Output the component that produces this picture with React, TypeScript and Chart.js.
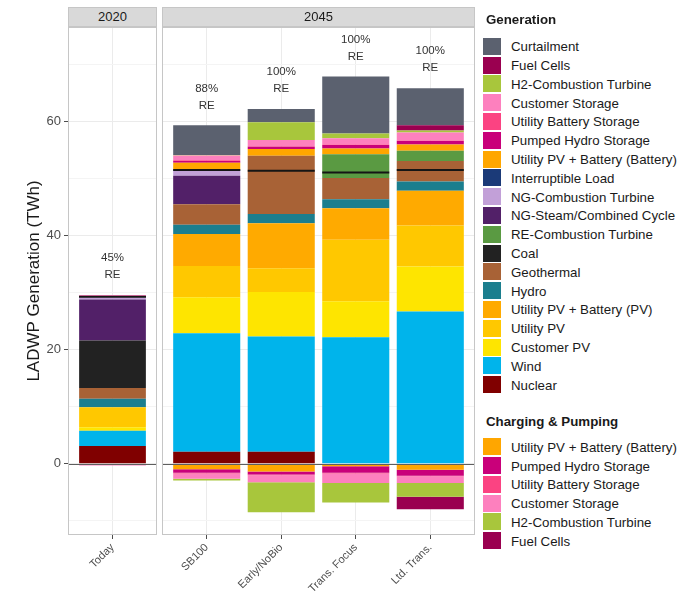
import React, { useEffect, useRef } from 'react';
import { Chart, registerables } from 'chart.js';

Chart.register(...registerables);

const FONT = "'Liberation Sans', Arial, Helvetica, sans-serif";

// ---------- data ----------
const categories = ['Today', 'SB100', 'Early/NoBio', 'Trans. Focus', 'Ltd. Trans.'];
const facetYears = ['2020', '2045'];
const facetMembers = [[0], [1, 2, 3, 4]];
const reShare = ['45%', '88%', '100%', '100%', '100%'];
const yGridValues = [-10, 0, 10, 20, 30, 40, 50, 60, 70];
const yLabelStep = 20;

// generation (TWh), per category
const nuclear = [3.1, 2.1, 2.1, 0, 0];
const wind = [2.7, 20.8, 20.2, 22.2, 26.7];
const customerPV = [0.6, 6.3, 7.8, 6.3, 7.9];
const utilityPV = [3.5, 5.5, 4.2, 10.8, 7.2];
const upvBatteryPV = [0, 5.6, 7.9, 5.5, 6.1];
const hydro = [1.5, 1.6, 1.6, 1.6, 1.6];
const geothermal = [1.9, 3.6, 10.2, 3.7, 3.6];
const coal = [8.3, 0, 0, 0, 0];
const reCT = [0, 0, 0, 4.2, 1.8];
const ngSteamCC = [7.2, 5.0, 0, 0, 0];
const ngCT = [0.4, 0.9, 0, 0, 0];
const interruptibleLoad = [0, 0.2, 0, 0, 0];
const upvBatteryBattery = [0, 1.2, 1.2, 1.0, 1.1];
const pumpedHydro = [0, 0.3, 0.4, 0.6, 0.6];
const utilityBattery = [0.1, 0.15, 0.1, 0.1, 0.1];
const customerStorage = [0.3, 0.8, 1.1, 1.1, 1.4];
const h2CT = [0, 0.1, 3.1, 0.8, 0.35];
const fuelCells = [0, 0, 0, 0, 0.9];
const curtailment = [0, 5.2, 2.3, 10.0, 6.5];

// load marker
const loadLevel = [29.3, 51.5, 51.4, 51.1, 51.5];

// charging & pumping (TWh, negative)
const chgUpvBattery = [0, -0.95, -1.35, -0.45, -1.05];
const chgPumpedHydro = [0, -0.65, -0.55, -1.15, -1.05];
const chgUtilityBattery = [0, -0.1, -0.1, -0.1, -0.1];
const chgCustomerStorage = [-0.3, -0.95, -1.25, -1.7, -1.2];
const chgH2CT = [0, -0.3, -5.25, -3.4, -2.4];
const chgFuelCells = [0, 0, 0, 0, -2.2];

// ---------- colours ----------
const COLORS: Record<string, string> = {
  'Curtailment': '#5b616f',
  'Fuel Cells': '#9a0050',
  'H2-Combustion Turbine': '#a8c63c',
  'Customer Storage': '#fd80be',
  'Utility Battery Storage': '#fb4382',
  'Pumped Hydro Storage': '#c9007a',
  'Utility PV + Battery (Battery)': '#ffa600',
  'Interruptible Load': '#1b3a78',
  'NG-Combustion Turbine': '#c2a0d8',
  'NG-Steam/Combined Cycle': '#522068',
  'RE-Combustion Turbine': '#5a9a42',
  'Coal': '#222222',
  'Geothermal': '#a86236',
  'Hydro': '#1b7e8e',
  'Utility PV + Battery (PV)': '#ffaa00',
  'Utility PV': '#ffc800',
  'Customer PV': '#fee500',
  'Wind': '#00b4eb',
  'Nuclear': '#800000',
};

// stacking order: bottom -> top
const generation: { name: string; data: number[] }[] = [
  { name: 'Nuclear', data: nuclear },
  { name: 'Wind', data: wind },
  { name: 'Customer PV', data: customerPV },
  { name: 'Utility PV', data: utilityPV },
  { name: 'Utility PV + Battery (PV)', data: upvBatteryPV },
  { name: 'Hydro', data: hydro },
  { name: 'Geothermal', data: geothermal },
  { name: 'Coal', data: coal },
  { name: 'RE-Combustion Turbine', data: reCT },
  { name: 'NG-Steam/Combined Cycle', data: ngSteamCC },
  { name: 'NG-Combustion Turbine', data: ngCT },
  { name: 'Interruptible Load', data: interruptibleLoad },
  { name: 'Utility PV + Battery (Battery)', data: upvBatteryBattery },
  { name: 'Pumped Hydro Storage', data: pumpedHydro },
  { name: 'Utility Battery Storage', data: utilityBattery },
  { name: 'Customer Storage', data: customerStorage },
  { name: 'H2-Combustion Turbine', data: h2CT },
  { name: 'Fuel Cells', data: fuelCells },
  { name: 'Curtailment', data: curtailment },
];

// charging order: nearest zero -> furthest
const charging: { name: string; data: number[] }[] = [
  { name: 'Utility PV + Battery (Battery)', data: chgUpvBattery },
  { name: 'Pumped Hydro Storage', data: chgPumpedHydro },
  { name: 'Utility Battery Storage', data: chgUtilityBattery },
  { name: 'Customer Storage', data: chgCustomerStorage },
  { name: 'H2-Combustion Turbine', data: chgH2CT },
  { name: 'Fuel Cells', data: chgFuelCells },
];

const Y_MIN = -12.5;
const Y_MAX = 76.6;

function makePanelPlugin(idx: number[]) {
  const totals = idx.map((ci) =>
    generation.reduce((s, g) => s + Math.max(0, g.data[ci]), 0)
  );
  return {
    id: 'panelDecor',
    afterDatasetsDraw(chart: any) {
      const { ctx, chartArea: a, scales } = chart;
      const y = scales.y;
      const x = scales.x;
      ctx.save();
      const y0 = Math.round(y.getPixelForValue(0)) + 0.5;
      ctx.strokeStyle = '#5e5e5e';
      ctx.lineWidth = 1;
      ctx.beginPath();
      ctx.moveTo(a.left, y0);
      ctx.lineTo(a.right, y0);
      ctx.stroke();

      ctx.fillStyle = '#333333';
      ctx.font = `11.5px ${FONT}`;
      ctx.textAlign = 'center';
      ctx.textBaseline = 'middle';
      idx.forEach((ci, k) => {
        const px = x.getPixelForValue(k);
        const top = y.getPixelForValue(totals[k]);
        ctx.fillText(reShare[ci], px, top - 37);
        ctx.fillText('RE', px, top - 20);
      });

      ctx.strokeStyle = '#c6c6c6';
      ctx.lineWidth = 1;
      ctx.strokeRect(a.left + 0.5, a.top + 0.5, a.width - 1, a.height - 1);
      ctx.restore();
    },
  };
}

function buildConfig(idx: number[], first: boolean): any {
  const pick = (arr: number[]) => idx.map((i) => arr[i]);
  const datasets: any[] = [];
  datasets.push({
    type: 'line',
    label: 'Load',
    data: pick(loadLevel),
    showLine: false,
    pointStyle: 'line',
    pointRadius: 33.5,
    pointHoverRadius: 33.5,
    pointBorderWidth: 2,
    pointHoverBorderWidth: 2,
    pointBorderColor: '#151515',
    borderColor: '#151515',
    backgroundColor: '#151515',
    order: -1,
  });
  charging.forEach((s) =>
    datasets.push({
      label: s.name + ' (charging)',
      data: pick(s.data),
      backgroundColor: COLORS[s.name],
      borderWidth: 0,
    })
  );
  generation.forEach((s) =>
    datasets.push({
      label: s.name,
      data: pick(s.data),
      backgroundColor: COLORS[s.name],
      borderWidth: 0,
    })
  );

  return {
    type: 'bar',
    data: { labels: idx.map((i) => categories[i]), datasets },
    plugins: [makePanelPlugin(idx)],
    options: {
      animation: false,
      responsive: false,
      events: [],
      datasets: {
        bar: {
          categoryPercentage: 1,
          barPercentage: first ? 0.75 : 0.9,
        },
      },
      layout: {
        autoPadding: false,
        padding: { top: 12, bottom: 0, left: first ? 0 : 2, right: first ? 1 : 5 },
      },
      plugins: { legend: { display: false }, tooltip: { enabled: false } },
      scales: {
        x: {
          stacked: true,
          offset: true,
          afterBuildTicks: (s: any) => {
            const n = s.ticks.length;
            s._startValue = s.min - 0.6;
            s._valueRange = n - 1 + 1.2;
          },
          afterFit: (s: any) => {
            s.height = 56;
          },
          grid: {
            offset: false,
            color: '#ebebeb',
            lineWidth: 1,
            tickLength: 4,
            tickColor: '#4d4d4d',
            drawTicks: true,
          },
          border: { display: false },
          ticks: {
            autoSkip: false,
            maxRotation: 45,
            minRotation: 45,
            color: '#4d4d4d',
            font: { size: 11, family: FONT },
            padding: 2,
          },
        },
        y: {
          stacked: true,
          min: Y_MIN,
          max: Y_MAX,
          afterBuildTicks: (s: any) => {
            s.ticks = yGridValues.map((v) => ({ value: v }));
          },
          afterFit: (s: any) => {
            s.width = first ? 68 : 0;
          },
          ticks: {
            display: first,
            callback: (v: any) => (Number(v) % yLabelStep === 0 ? String(v) : ''),
            color: '#4d4d4d',
            font: { size: 13, family: FONT },
            padding: 3,
          },
          grid: {
            color: (c: any) =>
              c.tick && c.tick.value % yLabelStep === 0 ? '#ebebeb' : '#f4f4f4',
            lineWidth: 1,
            tickLength: 4,
            drawTicks: first,
            tickColor: (c: any) =>
              c.tick && c.tick.value % yLabelStep === 0 ? '#4d4d4d' : 'rgba(0,0,0,0)',
          },
          border: { display: false },
          title: {
            display: first,
            text: 'LADWP Generation (TWh)',
            color: '#1a1a1a',
            font: { size: 17, family: FONT },
            padding: { top: 24, bottom: 0 },
          },
        },
      },
    },
  };
}

function Panel(props: { idx: number[]; first: boolean; left: number; width: number }) {
  const ref = useRef<HTMLCanvasElement | null>(null);
  useEffect(() => {
    if (!ref.current) return;
    const chart = new Chart(ref.current, buildConfig(props.idx, props.first));
    return () => chart.destroy();
  }, []);
  return (
    <canvas
      ref={ref}
      width={props.width}
      height={576}
      style={{ position: 'absolute', left: props.left, top: 15, width: props.width, height: 576 }}
    />
  );
}

const legendGen = [...generation].reverse().map((g) => g.name);
const legendChg = charging.map((c) => c.name);

function LegendBlock(props: { title: string; items: string[]; titleTop: number; firstTop: number; step: number }) {
  return (
    <>
      <div
        style={{
          position: 'absolute',
          left: 486,
          top: props.titleTop,
          height: 17,
          lineHeight: '17px',
          fontSize: 13.3,
          fontWeight: 'bold',
          color: '#1a1a1a',
          whiteSpace: 'nowrap',
        }}
      >
        {props.title}
      </div>
      {props.items.map((name, i) => {
        const top = props.firstTop + i * props.step;
        return (
          <React.Fragment key={name + i}>
            <div
              style={{
                position: 'absolute',
                left: 483,
                top,
                width: 18,
                height: 17,
                background: COLORS[name],
              }}
            />
            <div
              style={{
                position: 'absolute',
                left: 511,
                top: top + 0.5,
                height: 17,
                lineHeight: '17px',
                fontSize: 13.3,
                color: '#1a1a1a',
                whiteSpace: 'nowrap',
              }}
            >
              {name}
            </div>
          </React.Fragment>
        );
      })}
    </>
  );
}

const stripStyle = (left: number, width: number): React.CSSProperties => ({
  position: 'absolute',
  left,
  top: 7,
  width,
  height: 20,
  boxSizing: 'border-box',
  background: '#d9d9d9',
  border: '1px solid #c6c6c6',
  textAlign: 'center',
  lineHeight: '18px',
  fontSize: 13,
  color: '#1a1a1a',
});

export default function App() {
  return (
    <div
      style={{
        position: 'fixed',
        left: 0,
        top: 0,
        width: 680,
        height: 591,
        background: '#ffffff',
        fontFamily: FONT,
        overflow: 'hidden',
      }}
    >
      <Panel idx={facetMembers[0]} first={true} left={0} width={158} />
      <Panel idx={facetMembers[1]} first={false} left={160} width={320} />
      <div style={stripStyle(68, 89)}>{facetYears[0]}</div>
      <div style={stripStyle(162, 313)}>{facetYears[1]}</div>
      <LegendBlock title="Generation" items={legendGen} titleTop={11} firstTop={37.7} step={18.8} />
      <LegendBlock title="Charging & Pumping" items={legendChg} titleTop={413} firstTop={438.3} step={18.75} />
    </div>
  );
}
